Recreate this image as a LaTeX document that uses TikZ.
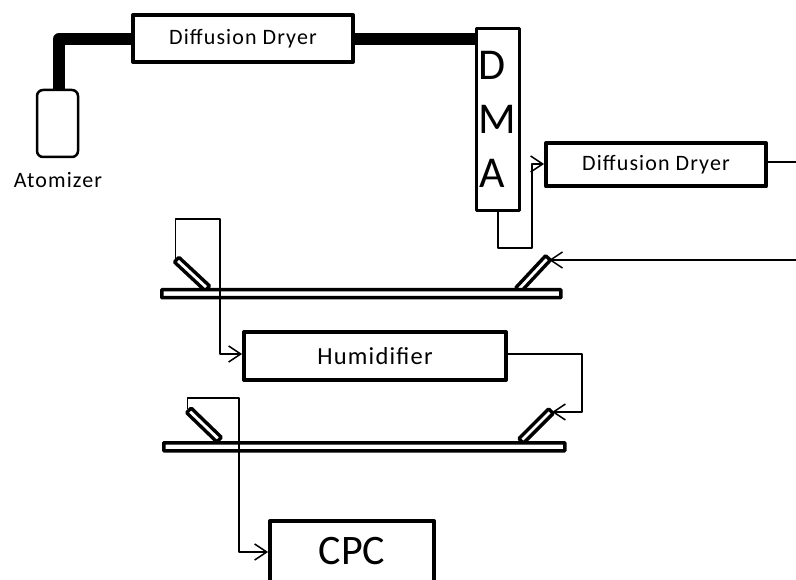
\documentclass[tikz,border=0pt]{standalone}
\usepackage{fontspec}
\setmainfont{Carlito}
\newfontfamily\spaced[LetterSpace=5]{Carlito}
\usetikzlibrary{arrows.meta,calc}
\tikzset{
  box/.style={draw=black,line width=4pt,fill=white,inner sep=0pt,anchor=north west,line join=round},
  tube/.style={draw=black,line width=3.4pt,fill=white,inner sep=0pt,minimum height=6.5pt,rounded corners=1pt},
  bar/.style={draw=black,line width=3.5pt,fill=white,inner sep=0pt,anchor=north west,minimum height=8pt,rounded corners=.5pt},
  thickpipe/.style={line width=12pt,black,line join=round},
  wire/.style={line width=1.3pt,black,line join=round},
  arrowwire/.style={wire,-{Straight Barb[length=12pt,width=16pt,line width=1.5pt]}},
}
\begin{document}
\begin{tikzpicture}[x=1pt,y=-1pt]
\useasboundingbox (0,0) rectangle (796,580);
\fill[white] (0,0) rectangle (796,580);
\coordinate (elbow) at (59,39);
\coordinate (exit2) at (796,162);
\coordinate (inlet) at (796,260);
% boxes
\node[box,minimum width=220pt,minimum height=47pt] (dryerA) at (131,13) {\raisebox{-1pt}{\spaced\fontsize{22}{26}\selectfont Diffusion Dryer}};
\node[box,line width=3pt,minimum width=42.5pt,minimum height=182pt] (dma) at (475,27) {};
\node[box,minimum width=220pt,minimum height=43.5pt] (dryerB) at (544,141) {\raisebox{-1pt}{\spaced\fontsize{22}{26}\selectfont Diffusion Dryer}};
\node[box,minimum width=262pt,minimum height=48pt] (hum) at (242,330) {\spaced\fontsize{24.5}{28}\selectfont Humidifier};
\node[box,minimum width=164pt,minimum height=80pt] (cpc) at (268,519) {};
\node[font=\fontsize{42}{48}\selectfont,inner sep=0pt] (cpclabel) at (352,551) {CPC};
\node[draw=black,line width=2.5pt,rounded corners=6pt,fill=white,minimum width=41pt,minimum height=67pt,inner sep=0pt] (atom) at (57.5,123.5) {};
\node[font=\spaced\fontsize{22}{26}\selectfont,inner sep=0pt] (atomlabel) at (58,180) {Atomizer};
\node[font=\fontsize{44}{50}\selectfont,inner sep=0pt,text height=28pt,text depth=0pt] (ld) at (492,66) {D};
\node[font=\fontsize{44}{50}\selectfont,inner sep=0pt,text height=28pt,text depth=0pt] (lm) at (497,120) {M};
\node[font=\fontsize{44}{50}\selectfont,inner sep=0pt,text height=28pt,text depth=0pt] (la) at (492,174) {A};
% thick pipes
\draw[thickpipe] (atom.north -| elbow) -- (elbow) -- (dryerA.west |- elbow);
\draw[thickpipe] (dryerA.east |- 0,39) -- (dma.west |- 0,39);
% tubes
\node[tube,minimum width=42pt,rotate=-43] (tubeA1) at (192,274) {};
\node[tube,minimum width=44pt,rotate=47] (tubeA2) at (533,274) {};
\node[tube,minimum width=42pt,rotate=-44] (tubeB1) at (204,425) {};
\node[tube,minimum width=42pt,rotate=45] (tubeB2) at (536,426) {};
% channels
\node[bar,minimum width=399pt] (chanA) at (160,288) {};
\node[bar,minimum width=401pt] (chanB) at (162,441) {};
% wires
\draw[arrowwire] (dma.south -| 498,0) -- (498,248) -- (532,248) -- (532,164) -- (dryerB.west |- 0,164);
\draw[wire] (dryerB.east |- exit2) -- (exit2);
\draw[arrowwire] (inlet) -- (tubeA2.east |- inlet);
\draw[wire] (tubeA1.west) -- (tubeA1.west |- 0,219) -- (220,219) -- (220,300);
\draw[arrowwire] (220,300) -- (220,354) -- (hum.west |- 0,354);
\draw[arrowwire] (hum.east |- 0,354) -- (582,354) -- (582,412) -- (tubeB2.east |- 0,412);
\draw[wire] (tubeB1.west) -- (tubeB1.west |- 0,398) -- (239,398) -- (239,455);
\draw[arrowwire] (239,455) -- (239,552) -- (cpc.west |- 0,552);
\end{tikzpicture}
\end{document}
